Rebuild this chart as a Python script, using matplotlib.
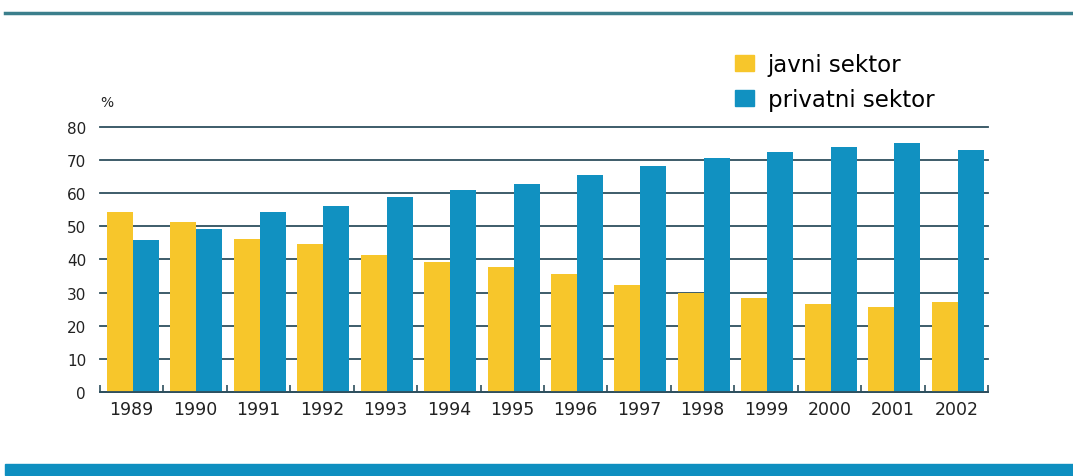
import numpy as np
import matplotlib
matplotlib.use("Agg")
import matplotlib.pyplot as plt
from matplotlib.lines import Line2D
from matplotlib.patches import Rectangle

years = ["1989", "1990", "1991", "1992", "1993", "1994", "1995",
         "1996", "1997", "1998", "1999", "2000", "2001", "2002"]
javni = [54.2, 51.2, 46.0, 44.6, 41.3, 39.3, 37.8,
         35.6, 32.2, 30.0, 28.2, 26.5, 25.7, 27.0]
privatni = [45.8, 49.2, 54.2, 56.2, 58.9, 60.9, 62.7,
            65.3, 68.0, 70.5, 72.5, 73.8, 75.1, 73.1]
yticks = [0, 10, 20, 30, 40, 50, 60, 70, 80]

YELLOW = "#F7C62B"
BLUE = "#1191C1"
GRID = "#2E4F5E"

fig = plt.figure(figsize=(10.73, 4.77), dpi=100)
ax = fig.add_axes([100 / 1073, 1 - 393 / 477, 888 / 1073, (393 - 127.7) / 477])

x = np.arange(len(years))
w = 0.41
ax.bar(x - w / 2 + 0.02, javni, w, color=YELLOW, zorder=2)
ax.bar(x + w / 2 + 0.02, privatni, w, color=BLUE, zorder=2)

ax.set_xlim(-0.5, len(years) - 0.5)
ax.set_ylim(0, 80)
ax.set_yticks(yticks)
ax.set_yticklabels([str(v) for v in yticks], fontsize=11, color="#222222")
ax.set_xticks(x)
ax.set_xticklabels(years, fontsize=12.5, color="#222222")
ax.tick_params(axis="y", length=0, pad=10)
ax.tick_params(axis="x", length=0, pad=6)
ax.set_xticks(np.arange(len(years) + 1) - 0.5, minor=True)
ax.tick_params(axis="x", which="minor", direction="in", length=5,
               color=GRID, width=1.2)

ax.grid(axis="y", color=GRID, linewidth=1.3, zorder=1)
for gl in ax.get_ygridlines():
    gl.set_clip_on(False)
ax.set_axisbelow(True)
for s in ["top", "right", "left"]:
    ax.spines[s].set_visible(False)
ax.spines["bottom"].set_color(GRID)
ax.spines["bottom"].set_linewidth(1.3)

ax.text(-0.5, 87.5, "%", fontsize=10, color="#222222", ha="left", va="center")

# legend
handles = [Rectangle((0, 0), 1, 1, color=YELLOW), Rectangle((0, 0), 1, 1, color=BLUE)]
fig.legend(handles, ["javni sektor", "privatni sektor"],
           loc="upper left", bbox_to_anchor=(724 / 1073, 1 - 43 / 477),
           frameon=False, fontsize=16.5, handlelength=0.8, handleheight=0.7,
           handletextpad=0.6, labelspacing=0.5, borderpad=0)

# decorative rules
fig.add_artist(Line2D([5 / 1073, 1.0], [1 - 14 / 477, 1 - 14 / 477],
                      color="#3B7F8C", linewidth=2.5, transform=fig.transFigure))
fig.add_artist(Rectangle((5 / 1073, 1 - 476 / 477), 1.0, 11 / 477,
                         color="#0E8FC0", transform=fig.transFigure))

fig.savefig("out.png", dpi=100, facecolor="white")
